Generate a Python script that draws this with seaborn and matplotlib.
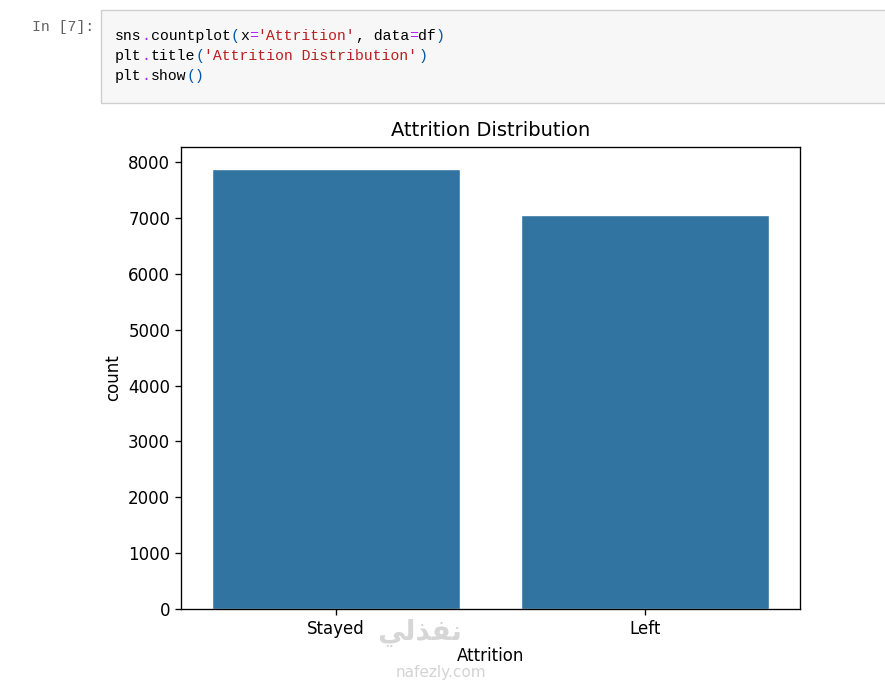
import numpy as np
import seaborn as sns
import matplotlib
matplotlib.use("Agg")
import matplotlib.pylab as plt
from matplotlib.patches import Rectangle

# data
categories = ['Stayed', 'Left']
counts = [7875, 7049]

W, H = 885, 682

sns.set_style("ticks")
plt.rcParams['font.family'] = ['DejaVu Sans']
plt.rcParams.update({'text.color': 'black', 'axes.labelcolor': 'black',
                     'xtick.color': 'black', 'ytick.color': 'black',
                     'axes.edgecolor': 'black'})

fig = plt.figure(figsize=(W / 100, H / 100), dpi=100)


def fx(px):
    return px / W


def fy(py):
    return 1 - py / H


# notebook code cell
fig.patches.append(Rectangle((fx(101), fy(103)), fx(800), (103 - 10) / H,
                             transform=fig.transFigure, facecolor='#f7f7f7',
                             edgecolor='#cfcfcf', linewidth=1))
mono = 'Liberation Mono'
fsz = 10.7
char_w = 0.6 * fsz * 100 / 72
fig.text(fx(32), fy(27), 'In [7]:', family=mono, fontsize=fsz, color='#616161', va='center')

code_lines = [
    [('sns', '#000000'), ('.', '#aa22ff'), ('countplot', '#000000'), ('(', '#0055aa'),
     ('x', '#000000'), ('=', '#aa22ff'), ("'Attrition'", '#ba2121'), (', data', '#000000'),
     ('=', '#aa22ff'), ('df', '#000000'), (')', '#0055aa')],
    [('plt', '#000000'), ('.', '#aa22ff'), ('title', '#000000'), ('(', '#0055aa'),
     ("'Attrition Distribution'", '#ba2121'), (')', '#0055aa')],
    [('plt', '#000000'), ('.', '#aa22ff'), ('show', '#000000'), ('()', '#0055aa')],
]
for i, toks in enumerate(code_lines):
    col = 0
    for txt, c in toks:
        fig.text(fx(115 + col * char_w), fy(36 + 20 * i), txt, family=mono,
                 fontsize=fsz, color=c, va='center')
        col += len(txt)

# the chart
ax = fig.add_axes([fx(181), fy(609), fx(800 - 181), (609 - 147) / H])
sns.barplot(x=categories, y=counts, ax=ax)
ax.set_title('Attrition Distribution', fontsize=14, pad=8)
ax.set_xlabel('Attrition', fontsize=12, labelpad=7)
ax.set_ylabel('count', fontsize=12)
ax.tick_params(labelsize=12, length=4.2, width=0.96)
for s in ax.spines.values():
    s.set_linewidth(0.96)
ax.set_ylim(0, max(counts) * 1.05)

# watermark
fig.text(fx(420), fy(633), '\uFEF2\uFEDF\uFEAC\uFED4\uFEE7', fontsize=20,
         color='#cccccc', alpha=0.8, ha='center', va='center', weight='bold')
fig.text(fx(441), fy(672), 'nafezly.com', fontsize=11, color='#c8c8c8',
         alpha=0.8, ha='center', va='center')

fig.savefig('out.png', dpi=100)
